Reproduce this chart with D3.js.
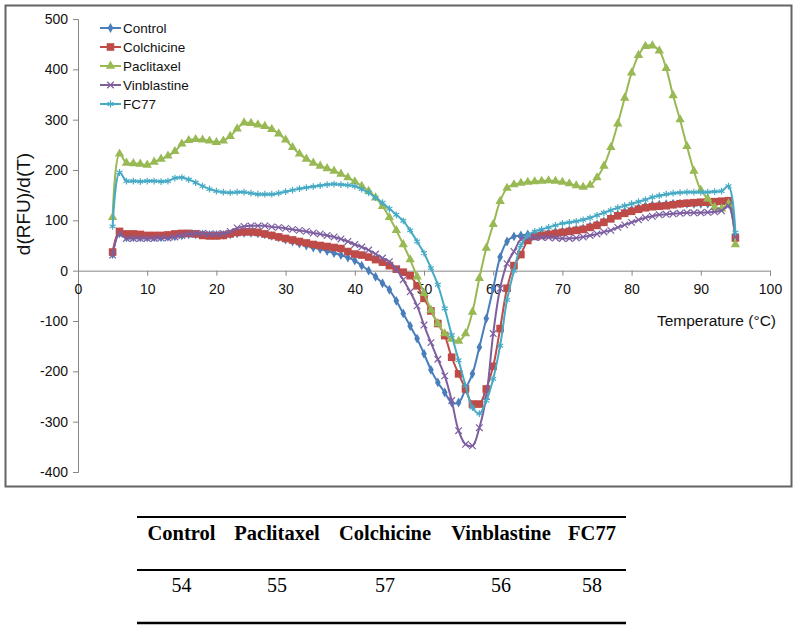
<!DOCTYPE html>
<html>
<head>
<meta charset="utf-8">
<script src="https://cdn.jsdelivr.net/npm/d3@7"></script>
<style>
  body { margin: 0; background: #fff; }
  svg { display: block; }
</style>
</head>
<body>
<svg id="chart" width="800" height="627"></svg>
<script>
// ---------------- DATA ----------------
const temperature = [5,6,7,8,9,10,11,12,13,14,15,16,17,18,19,20,21,22,23,24,25,26,27,28,29,30,31,32,33,34,35,36,37,38,39,40,41,42,43,44,45,46,47,48,49,50,51,52,53,54,55,56,57,58,59,60,61,62,63,64,65,66,67,68,69,70,71,72,73,74,75,76,77,78,79,80,81,82,83,84,85,86,87,88,89,90,91,92,93,94,95];

const control = [33,74,66,66,66,66,66,66,67,68,70,72,72,72,71,71,71,72,74,75,75,74,72,69,66,62,58,54,50,46,43,39,35,31,26,20,10,0,-12,-25,-38,-60,-85,-110,-135,-165,-197,-222,-242,-262,-262,-235,-205,-152,-95,-35,27,58,68,70,72,73,74,75,77,78,80,82,84,88,92,98,105,111,117,121,125,128,130,131,132,133,133,133,133,133,133,134,135,133,62];

const colchicine = [37,78,73,73,72,70,70,70,71,73,74,74,73,70,69,69,70,73,76,77,77,76,73,70,67,64,61,58,55,52,50,48,46,44,38,33,31,27,22,17,10,3,-3,-10,-30,-55,-80,-105,-129,-172,-205,-235,-265,-265,-235,-190,-115,-35,10,32,60,68,70,72,74,76,78,80,82,86,90,96,103,109,114,118,122,125,127,128,129,131,133,134,135,136,136,137,138,139,65];

const paclitaxel = [106,232,214,213,212,210,216,222,228,237,252,259,261,260,258,255,258,267,282,294,293,290,287,281,272,260,245,232,222,214,208,203,198,192,185,177,168,158,145,128,106,80,52,22,-12,-45,-78,-105,-125,-136,-140,-125,-82,-15,45,92,138,164,171,174,176,177,178,179,178,176,173,169,166,170,185,208,245,292,343,393,428,446,447,437,402,348,300,247,198,160,143,126,123,133,52];

const vinblastine = [31,73,64,64,64,64,64,65,65,67,70,73,74,74,73,73,74,78,85,88,89,89,89,87,86,84,82,80,78,75,73,70,67,63,58,52,47,41,33,25,18,3,-18,-42,-70,-108,-143,-176,-209,-258,-318,-345,-348,-312,-250,-125,-35,14,38,62,66,66,66,66,65,64,64,65,67,70,73,77,80,86,91,96,101,105,108,111,112,113,114,115,115,115,116,117,119,129,67];

const fc77 = [88,195,178,178,177,178,178,177,178,184,185,181,175,168,162,158,156,155,156,156,154,152,152,152,154,157,160,163,165,167,169,171,172,171,170,168,162,155,145,135,123,111,99,80,58,35,5,-28,-75,-128,-178,-228,-272,-284,-258,-215,-149,-58,0,50,70,78,82,86,90,94,96,98,101,105,110,115,120,125,129,133,137,141,146,149,152,154,155,156,156,156,156,157,158,168,76];

const seriesNames = ["Control", "Colchicine", "Paclitaxel", "Vinblastine", "FC77"];
const seriesColors = ["#4A7EBB", "#BE4B48", "#98B954", "#7D5FA0", "#46AAC5"];
const xTickValues = [0,10,20,30,40,50,60,70,80,90,100];
const yTickValues = [-400,-300,-200,-100,0,100,200,300,400,500];

const tableHeaders = ["Control", "Paclitaxel", "Colchicine", "Vinblastine", "FC77"];
const tableValues = [54, 55, 57, 56, 58];

// ---------------- DRAW ----------------
const svg = d3.select("#chart");
const allSeries = [control, colchicine, paclitaxel, vinblastine, fc77];

// chart frame
svg.append("rect")
  .attr("x", 5.5).attr("y", 5.5)
  .attr("width", 786).attr("height", 481)
  .attr("fill", "#fff")
  .attr("stroke", "#646464")
  .attr("stroke-width", 2);

const x = d3.scaleLinear().domain([0, 100]).range([78, 770]);
const y = d3.scaleLinear().domain([-400, 500]).range([472, 19]);

const axisColor = "#868686";
const fontSans = "Arial, 'Liberation Sans', sans-serif";
const plain = d => String(d);

// y axis
const yAxis = svg.append("g")
  .attr("transform", `translate(${x(0)},0)`)
  .call(d3.axisLeft(y).tickValues(yTickValues).tickSize(5).tickPadding(5).tickFormat(plain));
yAxis.select(".domain").attr("stroke", axisColor).attr("stroke-width", 1);
yAxis.selectAll(".tick line").attr("stroke", axisColor);
yAxis.selectAll(".tick text").attr("font-family", fontSans).attr("font-size", 14).attr("fill", "#111");

// x axis at y=0
const xAxis = svg.append("g")
  .attr("transform", `translate(0,${y(0)})`)
  .call(d3.axisBottom(x).tickValues(xTickValues).tickSize(5).tickPadding(8).tickFormat(plain));
xAxis.select(".domain").attr("stroke", axisColor).attr("stroke-width", 1);
xAxis.selectAll(".tick line").attr("stroke", axisColor);
xAxis.selectAll(".tick text").attr("font-family", fontSans).attr("font-size", 14).attr("fill", "#111");

// axis titles
svg.append("text")
  .attr("transform", `translate(30,204) rotate(-90)`)
  .attr("text-anchor", "middle")
  .attr("font-family", fontSans).attr("font-size", 19).attr("fill", "#111")
  .text("d(RFU)/d(T)");

svg.append("text")
  .attr("x", 776).attr("y", 326)
  .attr("text-anchor", "end")
  .attr("font-family", fontSans).attr("font-size", 15.5).attr("fill", "#111")
  .text("Temperature (°C)");

// symbols
const symbolTypes = [d3.symbolDiamond, d3.symbolSquare, d3.symbolTriangle, d3.symbolTimes, d3.symbolAsterisk];
const symbolSizes = [28, 58, 38, 30, 32];
const symbolFilled = [true, true, true, false, false];

const line = d3.line()
  .x((d, i) => x(temperature[i]))
  .y(d => y(d))
  .curve(d3.curveCatmullRom.alpha(0.5));

allSeries.forEach((vals, si) => {
  const g = svg.append("g");
  g.append("path")
    .datum(vals)
    .attr("d", line)
    .attr("fill", "none")
    .attr("stroke", seriesColors[si])
    .attr("stroke-width", 2);
  g.selectAll("path.m")
    .data(vals)
    .join("path")
    .attr("class", "m")
    .attr("transform", (d, i) => `translate(${x(temperature[i])},${y(d)})`)
    .attr("d", d3.symbol().type(symbolTypes[si]).size(symbolSizes[si]))
    .attr("fill", symbolFilled[si] ? seriesColors[si] : "none")
    .attr("stroke", seriesColors[si])
    .attr("stroke-width", symbolFilled[si] ? 0 : 1.2);
});

// legend
const legend = svg.append("g");
const legendY = [28, 47, 66, 85, 104];
seriesNames.forEach((name, i) => {
  const ly = legendY[i];
  legend.append("line")
    .attr("x1", 100).attr("x2", 121).attr("y1", ly).attr("y2", ly)
    .attr("stroke", seriesColors[i]).attr("stroke-width", 2);
  legend.append("path")
    .attr("transform", `translate(110.5,${ly})`)
    .attr("d", d3.symbol().type(symbolTypes[i]).size(symbolSizes[i]))
    .attr("fill", symbolFilled[i] ? seriesColors[i] : "none")
    .attr("stroke", seriesColors[i])
    .attr("stroke-width", symbolFilled[i] ? 0 : 1.2);
  legend.append("text")
    .attr("x", 123).attr("y", ly + 5)
    .attr("font-family", fontSans).attr("font-size", 13.5).attr("fill", "#111")
    .text(name);
});

// ---------------- TABLE ----------------
const colX = [181.5, 277, 385, 501, 592];
const table = svg.append("g");
table.append("line").attr("x1", 137).attr("x2", 626).attr("y1", 517).attr("y2", 517)
  .attr("stroke", "#000").attr("stroke-width", 2);
table.append("line").attr("x1", 137).attr("x2", 626).attr("y1", 570).attr("y2", 570)
  .attr("stroke", "#000").attr("stroke-width", 2);
table.append("line").attr("x1", 137).attr("x2", 626).attr("y1", 623).attr("y2", 623)
  .attr("stroke", "#000").attr("stroke-width", 2.6);

table.selectAll("text.h")
  .data(tableHeaders)
  .join("text")
  .attr("class", "h")
  .attr("x", (d, i) => colX[i]).attr("y", 540)
  .attr("text-anchor", "middle")
  .attr("font-family", "'Times New Roman', 'Liberation Serif', serif")
  .attr("font-weight", "bold").attr("font-size", 20.5).attr("fill", "#000")
  .text(d => d);

table.selectAll("text.v")
  .data(tableValues)
  .join("text")
  .attr("class", "v")
  .attr("x", (d, i) => colX[i]).attr("y", 592)
  .attr("text-anchor", "middle")
  .attr("font-family", "'Times New Roman', 'Liberation Serif', serif")
  .attr("font-size", 20).attr("fill", "#000")
  .text(d => d);
</script>
</body>
</html>
